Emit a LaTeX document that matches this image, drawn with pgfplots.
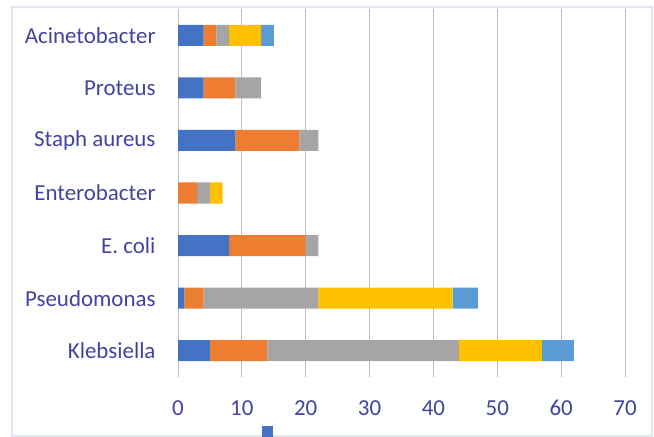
\documentclass[border=0pt]{standalone}
\usepackage{pgfplots}
\pgfplotsset{compat=1.18}
\usepackage{fontspec}
\setmainfont{Carlito}
\definecolor{cA}{HTML}{4472C4}
\definecolor{cB}{HTML}{ED7D31}
\definecolor{cC}{HTML}{A5A5A5}
\definecolor{cD}{HTML}{FFC000}
\definecolor{cE}{HTML}{5B9BD5}
\definecolor{txt}{RGB}{66,66,160}
\definecolor{grid}{RGB}{218,224,238}
\definecolor{frame}{RGB}{226,231,242}
\begin{document}
\begin{tikzpicture}[x=1bp,y=1bp]
\path[use as bounding box] (0,0) rectangle (654,437);
\draw[frame,line width=1.2bp] (12,1) rectangle (652,430);
\begin{axis}[
  at={(178bp,60bp)}, anchor=south west,
  scale only axis, width=447bp, height=368bp,
  xbar stacked, bar width=0.4,
  xmin=0, xmax=70, ymin=-0.5, ymax=6.5,
  xtick={0,10,...,70},
  ytick={0,...,6},
  yticklabels={Klebsiella,Pseudomonas,E. coli,Enterobacter,Staph aureus,Proteus,Acinetobacter},
  axis line style={draw=none},
  major tick length=0pt,
  xmajorgrids, ymajorgrids=false, grid style={grid,line width=1bp},
  tick label style={font=\fontsize{23}{23}\selectfont, text=txt},
  xticklabel style={yshift=-20bp},
  yticklabel style={xshift=-19bp},
  /pgf/number format/assume math mode=true,
  legend style={at={(axis cs:13.2,-0.5)}, anchor=north west, yshift=-47bp,
    draw=none, fill=none, inner sep=0pt,
    legend columns=-1, font=\fontsize{14}{14}\selectfont},
  legend image code/.code={\fill[#1] (0bp,-6bp) rectangle (11bp,5bp);},
]
\addplot[fill=cA, draw=none] coordinates {(5,0) (1,1) (8,2) (0,3) (9,4) (4,5) (4,6)};
\addlegendentry{\vphantom{S}}
\addplot[fill=cB, draw=none] coordinates {(9,0) (3,1) (12,2) (3,3) (10,4) (5,5) (2,6)};
\addplot[fill=cC, draw=none] coordinates {(30,0) (18,1) (2,2) (2,3) (3,4) (4,5) (2,6)};
\addplot[fill=cD, draw=none] coordinates {(13,0) (21,1) (0,2) (2,3) (0,4) (0,5) (5,6)};
\addplot[fill=cE, draw=none] coordinates {(5,0) (4,1) (0,2) (0,3) (0,4) (0,5) (2,6)};
\end{axis}
\end{tikzpicture}
\end{document}
